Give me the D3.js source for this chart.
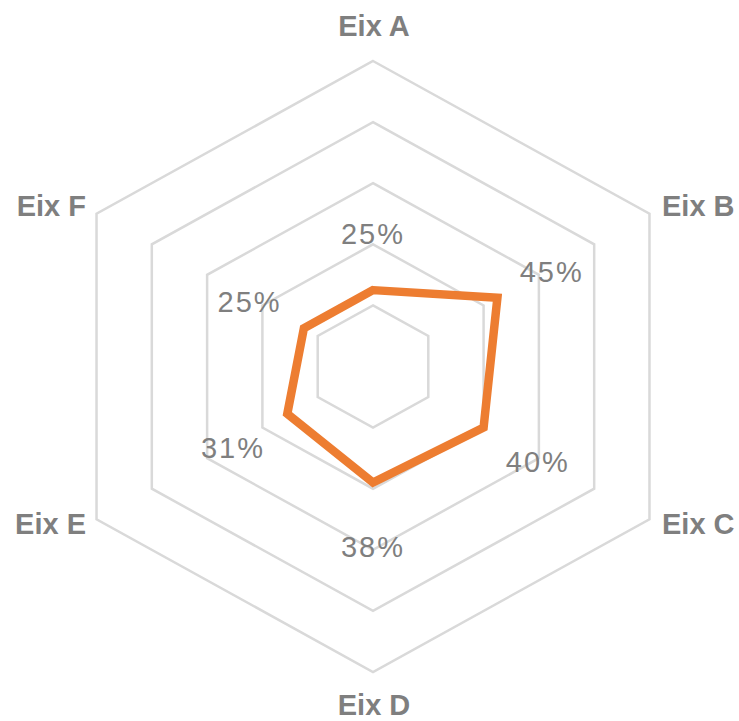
<!DOCTYPE html>
<html>
<head>
<meta charset="utf-8">
<script src="https://cdn.jsdelivr.net/npm/d3@7"></script>
<style>
	body { margin: 0; background: #fff; }
	svg { display: block; }
</style>
</head>
<body>
<div id="chart"></div>
<script>
// chart data
const axes = ["Eix A", "Eix B", "Eix C", "Eix D", "Eix E", "Eix F"];
const values = [0.25, 0.45, 0.40, 0.38, 0.31, 0.25];
const valueLabels = ["25%", "45%", "40%", "38%", "31%", "25%"];
const ringSteps = [0.2, 0.4, 0.6, 0.8, 1.0];

const width = 739, height = 721;
const cx = 373, cy = 366.5;
const R = 305.5;
const stretchX = 1.045; // plot area is a little wider than tall

const r = d3.scaleLinear().domain([0, 1]).range([0, R]);
const angle = d3.scaleLinear().domain([0, axes.length]).range([0, 2 * Math.PI]);

function pt(i, rad) {
	let a = angle(i);
	return [cx + Math.sin(a) * rad * stretchX, cy - Math.cos(a) * rad];
}

const svg = d3.select("#chart").append("svg")
	.attr("width", width)
	.attr("height", height);

//grid rings
const line = d3.line().curve(d3.curveLinearClosed);
svg.append("g").selectAll("path")
	.data(ringSteps)
	.enter().append("path")
	.attr("d", function(s) { return line(axes.map(function(a, i) { return pt(i, r(s)); })); })
	.attr("fill", "none")
	.attr("stroke", "#d9d9d9")
	.attr("stroke-width", 2.5);

//data series
svg.append("path")
	.attr("d", line(values.map(function(v, i) { return pt(i, r(v)); })))
	.attr("fill", "none")
	.attr("stroke", "#ED7D31")
	.attr("stroke-width", 8.5)
	.attr("stroke-linejoin", "miter");

//data labels
svg.append("g").selectAll("text")
	.data(values)
	.enter().append("text")
	.attr("x", function(v, i) { return pt(i, r(v) + 60)[0]; })
	.attr("y", function(v, i) { return pt(i, r(v) + 60)[1] + 4; })
	.attr("text-anchor", "middle")
	.attr("dominant-baseline", "central")
	.attr("font-family", "Liberation Sans, Arial, sans-serif")
	.attr("font-size", "29px")
	.attr("letter-spacing", "2px")
	.attr("fill", "#7f7f7f")
	.text(function(v, i) { return valueLabels[i]; });

//axis labels
const labelPos = [
	{x: 374, y: 36, anchor: "middle"},
	{x: 662, y: 216, anchor: "start"},
	{x: 662, y: 534, anchor: "start"},
	{x: 374, y: 715, anchor: "middle"},
	{x: 86, y: 534, anchor: "end"},
	{x: 86, y: 216, anchor: "end"}
];
svg.append("g").selectAll("text")
	.data(axes)
	.enter().append("text")
	.attr("x", function(d, i) { return labelPos[i].x; })
	.attr("y", function(d, i) { return labelPos[i].y; })
	.attr("text-anchor", function(d, i) { return labelPos[i].anchor; })
	.attr("font-family", "Liberation Sans, Arial, sans-serif")
	.attr("font-weight", "bold")
	.attr("font-size", "29px")
	.attr("fill", "#7f7f7f")
	.text(function(d) { return d; });
</script>
</body>
</html>
